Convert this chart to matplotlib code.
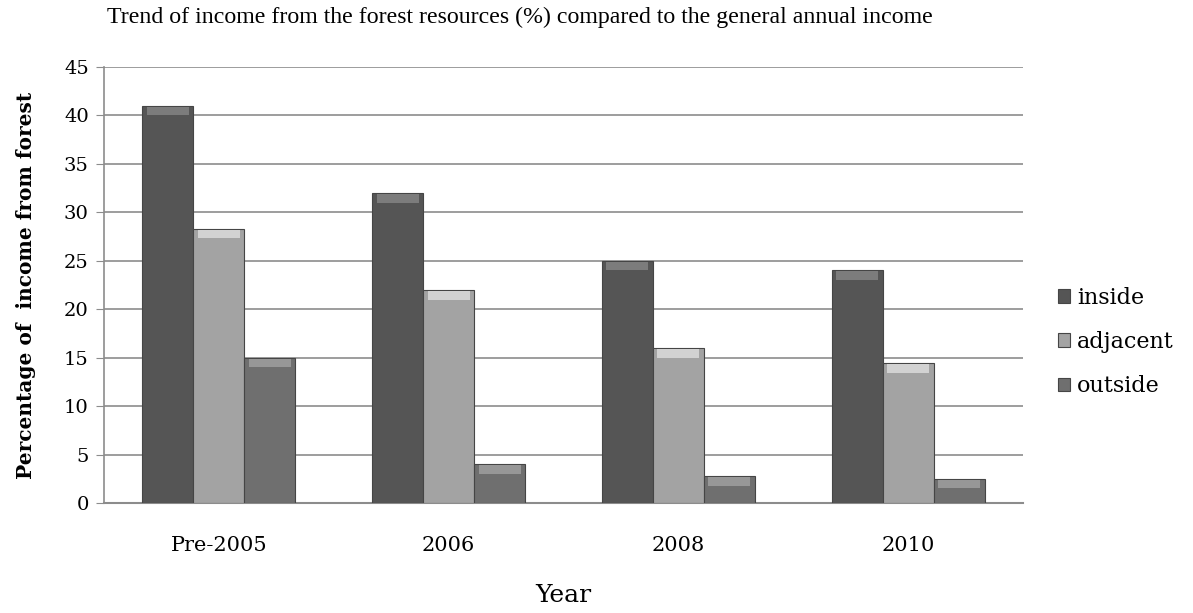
import numpy as np
import matplotlib
matplotlib.use("Agg")
import matplotlib.pyplot as plt

years = ["Pre-2005", "2006", "2008", "2010"]
series = ["inside", "adjacent", "outside"]
inside = [41, 32, 25, 24]
adjacent = [28.3, 22, 16, 14.4]
outside = [15, 4, 2.8, 2.5]

colors = ["#555555", "#a3a3a3", "#6f6f6f"]
tops = ["#7c7c7c", "#d2d2d2", "#979797"]

fig = plt.figure(figsize=(11.93, 6.13), dpi=100)
ax = fig.add_axes([104 / 1193, 1 - 503 / 613, (1023 - 104) / 1193, (503 - 67) / 613])

x = np.arange(len(years))
w = 0.222
for i, (vals, name) in enumerate(zip([inside, adjacent, outside], series)):
    pos = x + (i - 1) * w
    ax.bar(pos, vals, w, color=colors[i], edgecolor="#454545", linewidth=0.8,
           label=name, zorder=3)
    # bevel highlight on top of each bar
    vals = np.array(vals)
    ax.bar(pos, np.full(len(vals), 0.9), w * 0.82, bottom=vals - 1.0,
           color=tops[i], linewidth=0, zorder=4)

ax.set_ylim(0, 45)
ax.set_xlim(-0.5, 3.5)
ax.set_yticks(range(0, 46, 5))
ax.set_xticks(x)
ax.set_xticklabels(years)
ax.yaxis.grid(True, color="#8c8c8c", linewidth=1.2, zorder=0)
for s in ["top", "right"]:
    ax.spines[s].set_visible(False)
ax.spines["left"].set_color("#8c8c8c")
ax.spines["bottom"].set_color("#8c8c8c")
ax.spines["left"].set_linewidth(1.2)
ax.spines["bottom"].set_linewidth(1.5)
ax.tick_params(axis="y", length=6, color="#8c8c8c", labelsize=14, pad=5)
ax.tick_params(axis="x", length=0, labelsize=15, pad=24)
for lbl in ax.get_xticklabels() + ax.get_yticklabels():
    lbl.set_family("DejaVu Serif")

ax.set_ylabel("Percentage of  income from forest", family="DejaVu Serif",
              fontsize=14.5, fontweight="bold", labelpad=20)
ax.set_xlabel("Year", family="DejaVu Serif", fontsize=18, labelpad=21)

fig.text(107 / 1193, 1 - 17 / 613, "Trend of income from the forest resources (%) compared to the general annual income",
         family="Liberation Serif", fontsize=17.2, va="center", ha="left")

leg = fig.legend(loc="center left", bbox_to_anchor=(1058 / 1193, 1 - 342 / 613), frameon=False,
                 prop={"family": "DejaVu Serif", "size": 16},
                 handlelength=0.55, handleheight=0.55, handletextpad=0.3,
                 labelspacing=1.0, borderaxespad=0, borderpad=0)

fig.savefig("out.png", dpi=100)
